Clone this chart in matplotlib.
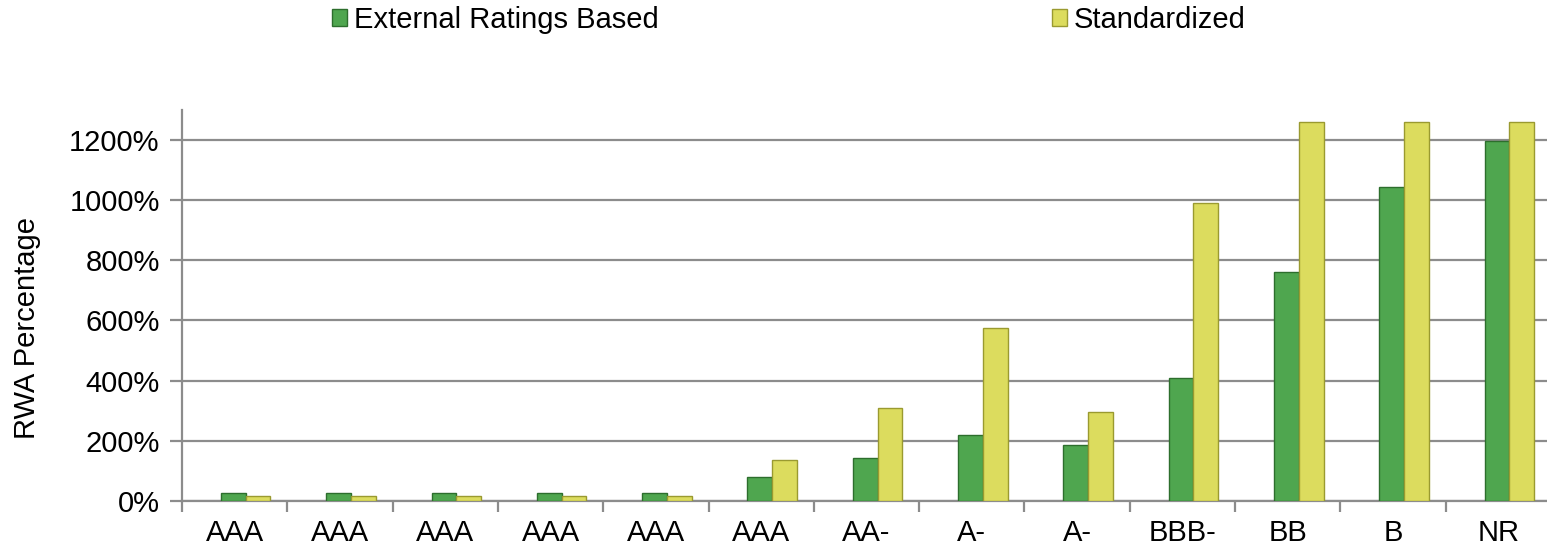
import numpy as np
import matplotlib
matplotlib.use("Agg")
import matplotlib.pyplot as plt
from matplotlib.patches import Patch
from matplotlib.ticker import FuncFormatter, MultipleLocator

plt.rcParams['font.family'] = ['Liberation Sans', 'DejaVu Sans']

# data (RWA %)
ratings = ["AAA", "AAA", "AAA", "AAA", "AAA", "AAA", "AA-", "A-", "A-", "BBB-", "BB", "B", "NR"]
erb = [28, 28, 28, 28, 28, 80, 143, 218, 185, 410, 760, 1042, 1195]
standardized = [15, 15, 15, 15, 15, 135, 310, 576, 295, 990, 1260, 1260, 1260]

green = "#4fa64f"
green_edge = "#2d6e2d"
yellow = "#dcdc5e"
yellow_edge = "#9a9a30"
fs = 21

fig = plt.figure(figsize=(15.47, 5.52), dpi=100)
ax = fig.add_axes([0.1176, 0.0924, 0.885, 0.709])

x = np.arange(len(ratings))
w = 0.235
shift = 0.105
ax.bar(x + shift - w / 2, erb, w, color=green, edgecolor=green_edge, linewidth=1, zorder=3)
ax.bar(x + shift + w / 2, standardized, w, color=yellow, edgecolor=yellow_edge, linewidth=1, zorder=3)

ax.set_xlim(-0.5, len(ratings) - 0.5)
ax.set_ylim(0, 1300)
ax.yaxis.set_major_locator(MultipleLocator(200))
ax.yaxis.set_major_formatter(FuncFormatter(lambda v, p: f"{v:.0f}%" if v <= 1200 else ""))
ax.grid(axis="y", color="#8c8c8c", linewidth=1.6, zorder=0)

ax.set_xticks(x)
ax.set_xticklabels(ratings)
ax.set_xticks(np.arange(len(ratings) + 1) - 0.5, minor=True)
ax.tick_params(axis="x", which="major", length=0, pad=13, labelsize=fs)
ax.tick_params(axis="x", which="minor", length=8, width=1.6, color="#8c8c8c")
ax.tick_params(axis="y", length=9, width=1.6, color="#8c8c8c", labelsize=fs, pad=7)

for s in ["top", "right"]:
    ax.spines[s].set_visible(False)
for s in ["left", "bottom"]:
    ax.spines[s].set_color("#8c8c8c")
    ax.spines[s].set_linewidth(1.6)

ax.set_ylabel("RWA Percentage", fontsize=fs)
ax.yaxis.set_label_coords(-0.103, 0.442)

h1 = Patch(facecolor=green, edgecolor=green_edge, label="External Ratings Based")
h2 = Patch(facecolor=yellow, edgecolor=yellow_edge, label="Standardized")
fig.legend(handles=[h1], loc="center left", bbox_to_anchor=(0.2146, 0.964), frameon=False,
           fontsize=fs, handlelength=0.5, handleheight=0.5, handletextpad=0.25,
           borderpad=0, borderaxespad=0)
fig.legend(handles=[h2], loc="center left", bbox_to_anchor=(0.680, 0.964), frameon=False,
           fontsize=fs, handlelength=0.5, handleheight=0.5, handletextpad=0.25,
           borderpad=0, borderaxespad=0)

fig.savefig("out.png", dpi=100)
